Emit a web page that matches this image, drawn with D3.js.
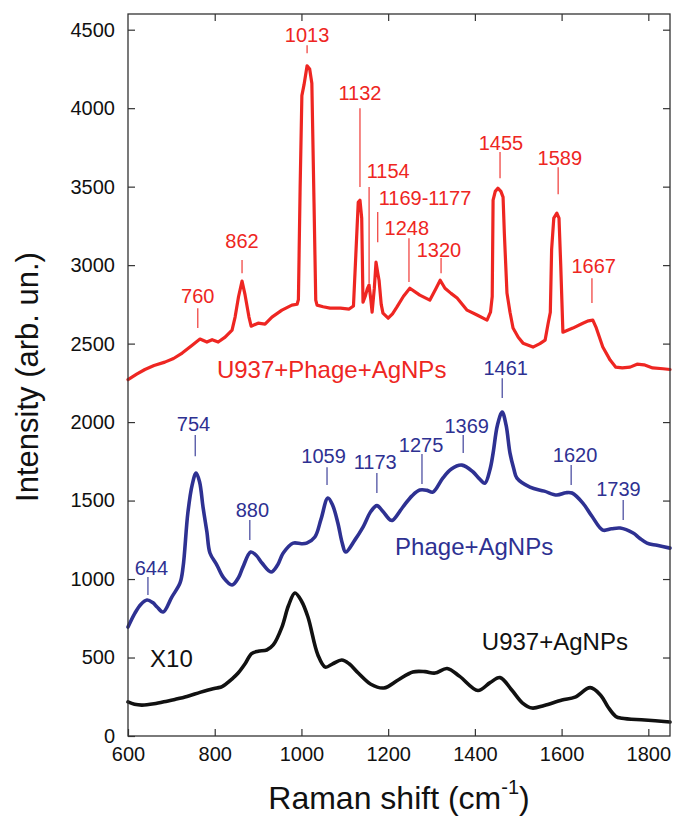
<!DOCTYPE html>
<html>
<head>
<meta charset="utf-8">
<script src="https://cdn.jsdelivr.net/npm/d3@7"></script>
<style>
  html, body { margin: 0; padding: 0; background: #fff; }
  svg { display: block; font-family: "Liberation Sans", Arial, Helvetica, sans-serif; }
</style>
</head>
<body>
<svg id="chart" width="675" height="819"></svg>
<script>
// ---------------- DATA ----------------
const xTicks = [600, 800, 1000, 1200, 1400, 1600, 1800];
const yTicks = [0, 500, 1000, 1500, 2000, 2500, 3000, 3500, 4000, 4500];

// U937+Phage+AgNPs (red)
const redShift = [600,620,639,660,685,705,725,748,766,782,794,808,824,840,847,855,863,870,879,884,900,916,932,955,978,990,993,997,1001,1006,1013,1019,1024,1029,1033,1036,1050,1066,1090,1110,1120,1126,1131,1135,1139,1142,1147,1152,1156,1160,1163,1168,1172,1176,1179,1184,1188,1200,1210,1220,1235,1250,1273,1296,1310,1320,1331,1345,1359,1382,1405,1428,1436,1440,1442,1447,1453,1460,1465,1468,1474,1481,1488,1500,1511,1534,1550,1562,1569,1574,1577,1582,1589,1594,1598,1603,1626,1649,1662,1672,1680,1695,1712,1725,1740,1758,1774,1790,1810,1834,1850];
const redIntensity = [2270,2305,2335,2360,2382,2405,2440,2490,2529,2510,2525,2510,2541,2586,2669,2800,2898,2810,2669,2611,2630,2624,2669,2713,2745,2751,2780,3500,4080,4150,4270,4250,4159,3400,2777,2745,2735,2726,2726,2720,2740,3100,3400,3414,3300,2764,2800,2850,2873,2780,2700,2850,3019,2950,2904,2750,2694,2662,2690,2732,2800,2853,2809,2777,2850,2904,2853,2820,2790,2713,2682,2650,2700,2800,3414,3470,3490,3470,3433,3200,2822,2700,2599,2540,2503,2478,2500,2522,2630,2700,3100,3300,3331,3300,3000,2573,2599,2630,2645,2650,2600,2478,2395,2350,2345,2350,2369,2365,2345,2340,2335];

// Phage+AgNPs (blue)
const blueShift = [600,616,630,644,657,667,681,701,720,727,738,748,757,765,773,782,789,805,820,840,855,865,883,896,909,930,945,958,981,1000,1012,1031,1045,1061,1072,1084,1094,1102,1123,1142,1160,1174,1188,1205,1211,1234,1255,1273,1290,1303,1326,1345,1370,1396,1410,1423,1435,1442,1452,1463,1472,1481,1490,1497,1527,1560,1589,1610,1624,1649,1670,1695,1715,1735,1765,1780,1797,1820,1850];
const blueIntensity = [694,783,840,866,850,822,790,885,975,1076,1420,1600,1675,1620,1459,1300,1166,1089,1010,962,1010,1076,1172,1150,1102,1045,1090,1166,1229,1225,1229,1268,1380,1516,1470,1357,1230,1172,1248,1331,1430,1468,1430,1376,1376,1459,1530,1567,1565,1554,1643,1700,1726,1682,1640,1611,1700,1802,1980,2064,1980,1802,1700,1643,1586,1560,1535,1550,1548,1484,1400,1312,1320,1325,1293,1260,1229,1215,1197];

// U937+AgNPs x10 (black)
const blackShift = [600,615,632,660,690,708,736,766,785,805,817,842,854,870,885,900,920,935,955,970,985,1000,1015,1038,1055,1072,1093,1110,1131,1160,1190,1223,1257,1285,1308,1336,1365,1407,1435,1458,1485,1510,1532,1560,1601,1631,1666,1690,1707,1725,1739,1792,1850];
const blackIntensity = [217,202,197,205,222,233,252,278,293,306,315,369,401,460,525,540,548,580,694,830,911,860,758,516,439,460,484,460,401,330,306,357,408,410,401,430,380,290,340,372,293,210,178,195,229,248,308,260,185,125,113,102,89];

// Peak annotations: label, label x (cm-1), label baseline (intensity), marker x, marker top, marker bottom
const redPeakLabels   = ["760","862","1013","1132","1154","1169-1177","1248","1320","1455","1589","1667"];
const redPeakTextX    = [761, 863, 1013, 1135, 1200, 1285, 1243, 1317, 1460, 1596, 1674];
const redPeakTextY    = [2758, 3108, 4420, 4051, 3554, 3382, 3191, 3051, 3732, 3637, 2949];
const redPeakLineX    = [761, 863, 1013, 1135, 1156, 1176, 1248, 1322, 1458, 1592, 1670];
const redPeakLineTop  = [2726, 3032, 4401, 4000, 3497, 3338, 3172, 3045, 3720, 3624, 2917];
const redPeakLineBot  = [2599, 2949, 4350, 3497, 2885, 3146, 2892, 2949, 3554, 3452, 2758];

const bluePeakLabels  = ["644","754","880","1059","1173","1275","1369","1461","1620","1739"];
const bluePeakTextX   = [654, 751, 887, 1051, 1170, 1276, 1381, 1471, 1631, 1731];
const bluePeakTextY   = [1025, 1943, 1395, 1739, 1701, 1809, 1930, 2299, 1745, 1529];
const bluePeakLineX   = [646, 755, 881, 1059, 1174, 1278, 1373, 1463, 1622, 1742];
const bluePeakLineTop = [1013, 1917, 1376, 1713, 1675, 1796, 1917, 2280, 1726, 1503];
const bluePeakLineBot = [898, 1783, 1248, 1599, 1548, 1605, 1803, 2153, 1599, 1376];

const seriesNames = ["U937+Phage+AgNPs", "Phage+AgNPs", "U937+AgNPs", "X10"];
const seriesNameX = [805, 1216, 1416, 651];
const seriesNameY = [2280, 1153, 548, 439];

// ---------------- DRAW ----------------
const RED = "#ee2622", BLUE = "#2e3192", BLACK = "#111";
const svg = d3.select("#chart");
const M = {left: 128, top: 14, right: 670, bottom: 736};
const x = d3.scaleLinear().domain([600, 1850]).range([M.left, M.right]);
const y = d3.scaleLinear().domain([0, 4600]).range([M.bottom, M.top]);

const lineGen = d3.line().x(d => x(d[0])).y(d => y(d[1]));
function draw(xs, ys, color, width, curve) {
  svg.append("path")
    .attr("fill", "none")
    .attr("stroke", color)
    .attr("stroke-width", width)
    .attr("stroke-linejoin", "round")
    .attr("stroke-linecap", "round")
    .attr("d", lineGen.curve(curve)(d3.zip(xs, ys)));
}

draw(blackShift, blackIntensity, BLACK, 3.6, d3.curveCatmullRom.alpha(0.5));
draw(blueShift, blueIntensity, BLUE, 3.6, d3.curveCatmullRom.alpha(0.5));
draw(redShift, redIntensity, RED, 3.2, d3.curveLinear);

// axes
const axisColor = "#333";
const gB = svg.append("g").attr("transform", `translate(0,${M.bottom})`)
  .call(d3.axisBottom(x).tickValues(xTicks).tickSizeInner(-7).tickSizeOuter(0).tickPadding(11).tickFormat(d3.format("d")));
const gL = svg.append("g").attr("transform", `translate(${M.left},0)`)
  .call(d3.axisLeft(y).tickValues(yTicks).tickSizeInner(-7).tickSizeOuter(0).tickPadding(13).tickFormat(d3.format("d")));
const gT = svg.append("g").attr("transform", `translate(0,${M.top})`)
  .call(d3.axisTop(x).tickValues(xTicks.filter(v => v > 600)).tickSizeInner(-7).tickSizeOuter(0).tickFormat(""));
const gR = svg.append("g").attr("transform", `translate(${M.right},0)`)
  .call(d3.axisRight(y).tickValues(yTicks.filter(v => v > 0)).tickSizeInner(-7).tickSizeOuter(0).tickFormat(""));
[gB, gL, gT, gR].forEach(g => {
  g.select(".domain").remove();
  g.selectAll("line").attr("stroke", axisColor).attr("stroke-width", 1.2);
  g.selectAll("text").attr("fill", "#111").style("font-size", "20px").style("font-family", '"Liberation Sans", Arial, sans-serif');
});
svg.append("rect").attr("x", M.left).attr("y", M.top)
  .attr("width", M.right - M.left).attr("height", M.bottom - M.top)
  .attr("fill", "none").attr("stroke", axisColor).attr("stroke-width", 1.3);

// annotations
function annotate(labels, tx, ty, lx, lt, lb, color) {
  labels.forEach((t, i) => {
    svg.append("line")
      .attr("x1", x(lx[i])).attr("x2", x(lx[i]))
      .attr("y1", y(lt[i])).attr("y2", y(lb[i]))
      .attr("stroke", color).attr("stroke-width", 1.1);
    svg.append("text")
      .attr("x", x(tx[i])).attr("y", y(ty[i]))
      .attr("text-anchor", "middle")
      .attr("fill", color)
      .style("font-size", "20px")
      .text(t);
  });
}
annotate(redPeakLabels, redPeakTextX, redPeakTextY, redPeakLineX, redPeakLineTop, redPeakLineBot, RED);
annotate(bluePeakLabels, bluePeakTextX, bluePeakTextY, bluePeakLineX, bluePeakLineTop, bluePeakLineBot, BLUE);

const nameColors = [RED, BLUE, BLACK, BLACK];
seriesNames.forEach((n, i) => {
  svg.append("text")
    .attr("x", x(seriesNameX[i])).attr("y", y(seriesNameY[i]))
    .attr("fill", nameColors[i])
    .style("font-size", "24px")
    .text(n);
});

// axis titles
svg.append("text")
  .attr("transform", `translate(38,${(M.top + M.bottom) / 2 + 2}) rotate(-90)`)
  .attr("text-anchor", "middle")
  .attr("fill", "#111")
  .style("font-size", "31px")
  .text("Intensity (arb. un.)");

const xt = svg.append("text")
  .attr("x", (M.left + M.right) / 2)
  .attr("y", 809)
  .attr("text-anchor", "middle")
  .attr("fill", "#111")
  .style("font-size", "32px");
xt.append("tspan").text("Raman shift (cm");
xt.append("tspan").attr("dy", -15).style("font-size", "20px").text("-1");
xt.append("tspan").attr("dy", 15).text(")");
</script>
</body>
</html>
